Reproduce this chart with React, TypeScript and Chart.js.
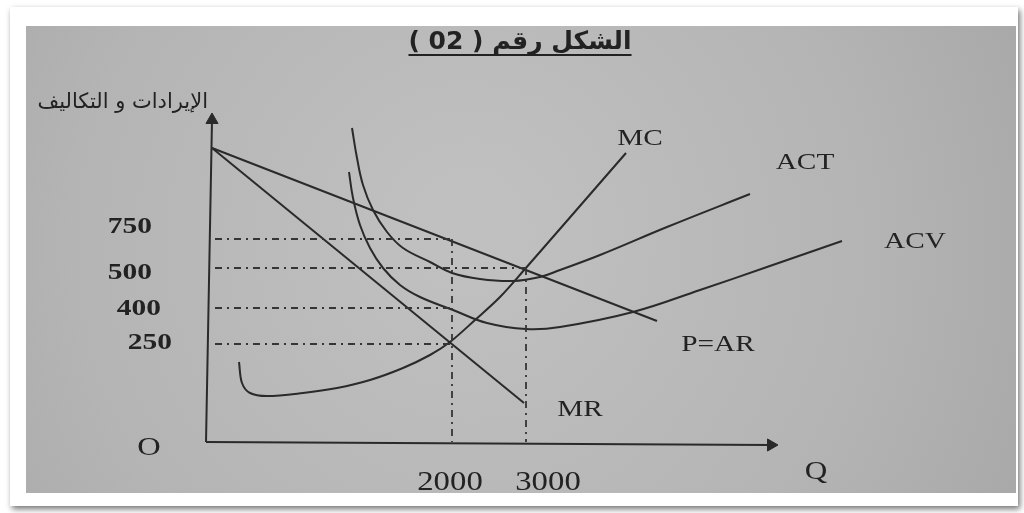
import React, { useEffect, useRef } from 'react';
import { Chart, registerables } from 'chart.js';

Chart.register(...registerables);

// Schematic drawing units of the textbook sketch:
// q = horizontal distance from the origin O, p = height above the Q axis.
const priceTickLabels = ['750', '500', '400', '250'];
const priceTickLevels = [203, 174, 134, 98];
const priceGuideEnds = [246, 320, 246, 246];
const guideStart = 9;

const qtyTickLabels = ['2000', '3000'];
const qtyTickLevels = [246, 320];
const qtyGuideTops = [203, 174];

const arQ = [6, 451];
const arP = [294, 121];

const mrQ = [6, 318];
const mrP = [294, 39];

const mcQ = [33, 36, 44, 61, 97, 131, 164, 197, 224, 244, 269, 294, 319, 360, 420];
const mcP = [80, 59, 49, 46, 49, 54, 62, 74, 87, 100, 122, 145, 173, 220, 289];

const actQ = [146, 151, 157, 167, 181, 197, 224, 246, 274, 307, 334, 354, 394, 461, 544];
const actP = [314, 284, 257, 232, 210, 194, 180, 169, 163, 161, 165, 172, 187, 215, 248];

const acvQ = [143, 147, 154, 164, 177, 194, 214, 247, 281, 320, 354, 427, 494, 561, 636];
const acvP = [270, 244, 217, 194, 174, 157, 145, 132, 119, 113, 115, 130, 152, 175, 201];

const yAxisQ = [0, 6];
const yAxisP = [0, 322];
const xAxisQ = [0, 565];
const xAxisP = [0, -3];

const titleText = 'الشكل رقم ( 02 )';
const yTitleText = 'الإيرادات و التكاليف';
const curveNames = ['MC', 'ACT', 'ACV', 'P=AR', 'MR'];

// ---- layout (not data) ----
const LINE = '#2a2a2a';
const TEXT = '#222222';
const curveLabelAt = [
  [434, 305],
  [599, 281],
  [709, 202],
  [512, 99],
  [374, 34],
];
const priceLabelRight = [-54, -54, -45, -34];
const priceLabelCenter = [217, 171, 135, 101];
const qtyLabelCenterX = [244, 342];
const qtyLabelCenterY = -39;

const pts = (xs: number[], ys: number[]) => xs.map((x, i) => ({ x, y: ys[i] }));

function drawText(
  ctx: CanvasRenderingContext2D,
  text: string,
  x: number,
  y: number,
  font: string,
  align: CanvasTextAlign,
  sx: number,
  rtl = false
) {
  ctx.save();
  ctx.font = font;
  ctx.textAlign = align;
  ctx.textBaseline = 'alphabetic';
  ctx.direction = rtl ? 'rtl' : 'ltr';
  ctx.fillStyle = TEXT;
  ctx.translate(x, y);
  ctx.scale(sx, 1);
  ctx.fillText(text, 0, 0);
  ctx.restore();
}

const backgroundPlugin = {
  id: 'photoBackground',
  beforeDraw(chart: any) {
    const ctx: CanvasRenderingContext2D = chart.ctx;
    const W = chart.width;
    const H = chart.height;
    ctx.save();
    ctx.fillStyle = '#ffffff';
    ctx.fillRect(0, 0, W, H);
    ctx.shadowColor = 'rgba(0,0,0,0.55)';
    ctx.shadowBlur = 6;
    ctx.shadowOffsetX = 2;
    ctx.shadowOffsetY = 3;
    ctx.fillStyle = '#ffffff';
    ctx.fillRect(10, 7, 1008, 499);
    ctx.shadowColor = 'transparent';
    const g = ctx.createRadialGradient(470, 230, 40, 470, 260, 640);
    g.addColorStop(0, '#c0c0c0');
    g.addColorStop(0.6, '#b4b4b4');
    g.addColorStop(1, '#a6a6a6');
    ctx.fillStyle = g;
    ctx.fillRect(26, 26, 990, 467);
    ctx.restore();
  },
};

const textPlugin = {
  id: 'sketchText',
  afterDraw(chart: any) {
    const ctx: CanvasRenderingContext2D = chart.ctx;
    const xs = chart.scales.x;
    const ys = chart.scales.y;
    const X = (v: number) => xs.getPixelForValue(v);
    const Y = (v: number) => ys.getPixelForValue(v);

    // title
    const tFont = 'bold 25px "DejaVu Sans"';
    drawText(ctx, titleText, 520, 49, tFont, 'center', 1.0, true);
    ctx.save();
    ctx.font = tFont;
    ctx.direction = 'rtl';
    const tw = ctx.measureText(titleText).width;
    ctx.strokeStyle = TEXT;
    ctx.lineWidth = 2;
    ctx.beginPath();
    ctx.moveTo(520 - tw / 2, 55);
    ctx.lineTo(520 + tw / 2, 55);
    ctx.stroke();
    ctx.restore();

    // y-axis title
    drawText(ctx, yTitleText, X(2), Y(340) + 6, '21px "DejaVu Sans"', 'right', 1.0, true);

    // price ticks
    const pFont = 'bold 23px "Liberation Serif"';
    priceTickLabels.forEach((t, i) => {
      drawText(ctx, t, X(priceLabelRight[i]), Y(priceLabelCenter[i]) + 8, pFont, 'right', 1.28);
    });
    // quantity ticks
    const qFont = '28px "Liberation Serif"';
    qtyTickLabels.forEach((t, i) => {
      drawText(ctx, t, X(qtyLabelCenterX[i]), Y(qtyLabelCenterY) + 9, qFont, 'center', 1.17);
    });
    // O and Q
    drawText(ctx, 'O', X(-57), Y(-4) + 9, '26px "Liberation Serif"', 'center', 1.25);
    drawText(ctx, 'Q', X(610), Y(-29) + 8, '26px "Liberation Serif"', 'center', 1.2);
    // curve labels
    curveNames.forEach((t, i) => {
      drawText(ctx, t, X(curveLabelAt[i][0]), Y(curveLabelAt[i][1]) + 8, '24px "Liberation Serif"', 'center', 1.22);
    });
  },
};

export default function App() {
  const ref = useRef<HTMLCanvasElement | null>(null);

  useEffect(() => {
    if (!ref.current) return;
    const curve = (data: any[], tension: number) => ({
      data,
      borderColor: LINE,
      borderWidth: 2,
      pointRadius: 0,
      tension,
      fill: false,
      clip: false as any,
    });
    const dashed = (data: any[]) => ({
      data,
      borderColor: '#353535',
      borderWidth: 1.8,
      borderDash: [7, 5, 2, 5],
      pointRadius: 0,
      tension: 0,
      fill: false,
      clip: false as any,
    });
    const datasets: any[] = [];
    priceTickLevels.forEach((lv, i) => {
      datasets.push(dashed(pts([guideStart, priceGuideEnds[i]], [lv, lv])));
    });
    qtyTickLevels.forEach((q, i) => {
      datasets.push(dashed(pts([q, q], [qtyGuideTops[i], 0])));
    });
    datasets.push(curve(pts(arQ, arP), 0));
    datasets.push(curve(pts(mrQ, mrP), 0));
    datasets.push(curve(pts(mcQ, mcP), 0.35));
    datasets.push(curve(pts(actQ, actP), 0.4));
    datasets.push(curve(pts(acvQ, acvP), 0.4));
    // axes with arrow heads
    datasets.push({
      ...curve(pts(yAxisQ, yAxisP), 0),
      pointRadius: [0, 7],
      pointStyle: 'triangle',
      pointRotation: [0, 0],
      pointBackgroundColor: LINE,
      pointBorderColor: LINE,
      pointBorderWidth: 1,
    });
    datasets.push({
      ...curve(pts(xAxisQ, xAxisP), 0),
      pointRadius: [0, 7],
      pointStyle: 'triangle',
      pointRotation: [0, 90],
      pointBackgroundColor: LINE,
      pointBorderColor: LINE,
      pointBorderWidth: 1,
    });

    const chart = new Chart(ref.current, {
      type: 'line',
      data: { datasets },
      options: {
        animation: false,
        responsive: false,
        events: [],
        layout: { padding: { left: 196, right: 18, top: 102, bottom: 51 } },
        scales: {
          x: { type: 'linear', min: -10, max: 800, display: false },
          y: { type: 'linear', min: -20, max: 340, display: false },
        },
        plugins: {
          legend: { display: false },
          tooltip: { enabled: false },
          title: { display: false },
        },
      },
      plugins: [backgroundPlugin, textPlugin],
    } as any);
    return () => chart.destroy();
  }, []);

  return (
    <div style={{ position: 'absolute', left: 0, top: 0, width: 1024, height: 513 }}>
      <canvas ref={ref} width={1024} height={513} style={{ display: 'block', width: 1024, height: 513 }} />
    </div>
  );
}
